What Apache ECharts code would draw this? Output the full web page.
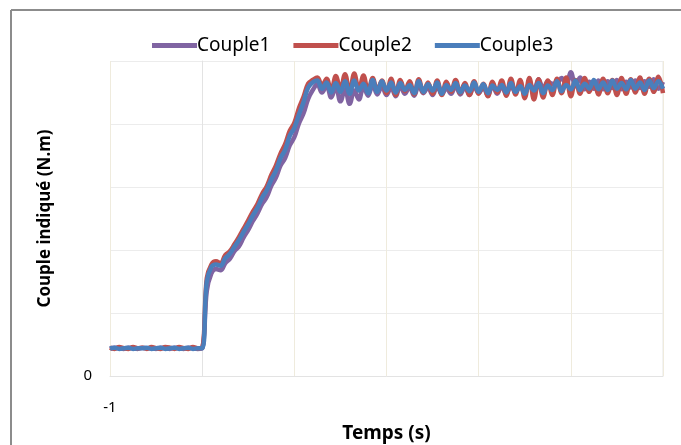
<!DOCTYPE html>
<html>
<head>
<meta charset="utf-8">
<script src="https://cdn.jsdelivr.net/npm/echarts@6/dist/echarts.min.js"></script>
<style>html,body{margin:0;padding:0;background:#fff}#c{width:681px;height:445px}</style>
</head>
<body>
<div id="c"></div>
<script>
var times = [
-1.00,-0.95,-0.90,-0.85,-0.80,-0.75,-0.70,-0.65,-0.60,-0.55,
-0.50,-0.45,-0.40,-0.35,-0.30,-0.25,-0.20,-0.15,-0.10,-0.05,
0.00,0.05,0.10,0.15,0.20,0.25,0.30,0.35,0.40,0.45,
0.50,0.55,0.60,0.65,0.70,0.75,0.80,0.85,0.90,0.95,
1.00,1.05,1.10,1.15,1.20,1.25,1.30,1.35,1.40,1.45,
1.50,1.55,1.60,1.65,1.70,1.75,1.80,1.85,1.90,1.95,
2.00,2.05,2.10,2.15,2.20,2.25,2.30,2.35,2.40,2.45,
2.50,2.55,2.60,2.65,2.70,2.75,2.80,2.85,2.90,2.95,
3.00,3.05,3.10,3.15,3.20,3.25,3.30,3.35,3.40,3.45,
3.50,3.55,3.60,3.65,3.70,3.75,3.80,3.85,3.90,3.95,
4.00,4.05,4.10,4.15,4.20,4.25,4.30,4.35,4.40,4.45,
4.50,4.55,4.60,4.65,4.70,4.75,4.80,4.85,4.90,4.95,
5.00];

var couple1 = [
4.3,4.5,4.4,4.3,4.5,4.4,4.3,4.5,4.4,4.4,
4.3,4.5,4.4,4.3,4.5,4.4,4.3,4.5,4.4,4.3,
4.4,
13.5,16.3,17.0,16.8,17.9,18.6,19.8,20.6,22.0,23.2,
24.6,25.8,27.3,28.4,30.2,31.5,33.4,34.6,36.6,37.9,
40.1,41.7,44.0,45.4,
46.3,45.0,46.1,44.2,45.9,43.6,45.5,43.2,45.3,43.9,
45.9,44.5,46.2,44.7,46.0,44.6,45.8,44.4,46.1,44.8,
45.9,44.5,46.2,44.9,45.8,44.6,46.0,44.7,45.7,44.8,
46.1,44.7,45.9,44.6,46.0,44.9,45.8,44.5,46.2,44.8,
46.0,44.7,46.1,45.0,46.3,44.9,46.6,45.3,47.1,45.6,
46.7,46.4,46.5,47.3,46.2,48.2,46.0,47.4,45.5,46.7,
45.6,46.9,45.5,46.8,45.7,47.0,45.5,46.7,45.8,46.9,
45.7,46.8,45.9,47.1,45.6,46.7];

var couple2 = [
4.5,4.3,4.6,4.4,4.3,4.6,4.4,4.5,4.3,4.6,
4.4,4.3,4.6,4.5,4.3,4.6,4.4,4.3,4.6,4.4,
4.5,
15.5,17.7,18.2,17.9,19.2,19.8,20.9,22.1,23.4,24.7,
26.1,27.3,28.9,30.1,31.9,33.4,35.3,36.8,38.9,40.2,
42.5,44.3,46.4,47.0,
47.4,46.0,47.2,45.2,47.6,45.5,47.9,45.0,48.0,45.4,
47.7,45.1,47.3,45.3,46.9,44.9,47.2,44.6,47.0,45.2,
46.8,44.7,47.1,45.0,46.6,44.8,46.9,44.6,46.7,45.1,
47.0,44.9,46.5,44.6,46.8,44.8,46.4,44.4,46.7,45.0,
46.9,44.5,47.2,44.7,47.0,44.1,47.3,43.9,47.1,44.2,
46.9,44.6,47.2,44.9,47.4,44.4,47.0,44.8,47.3,45.1,
46.8,44.7,47.2,44.9,47.0,44.6,47.3,44.8,47.1,45.0,
47.4,44.8,47.2,45.1,47.5,44.9];

var couple3 = [
4.4,4.5,4.3,4.4,4.5,4.3,4.4,4.4,4.5,4.3,
4.4,4.5,4.3,4.4,4.5,4.3,4.4,4.5,4.3,4.4,
4.4,
15.0,17.3,17.7,17.5,18.7,19.4,20.5,21.6,22.9,24.1,
25.5,26.7,28.3,29.5,31.2,32.6,34.6,35.9,38.1,39.4,
41.5,43.5,45.8,46.6,
46.9,45.6,46.6,45.0,46.5,45.1,46.8,44.8,46.9,45.3,
46.4,44.9,47.0,45.1,46.8,45.3,46.6,45.0,46.5,45.4,
46.2,44.9,46.8,45.1,46.3,45.3,46.6,44.8,46.2,45.4,
46.5,45.0,46.1,45.2,46.6,45.1,46.3,44.9,46.1,45.4,
46.2,45.0,46.5,45.1,46.0,44.8,46.2,45.3,46.5,44.9,
46.1,45.4,46.8,45.2,46.2,45.5,46.9,45.4,46.4,45.6,
47.0,45.5,46.6,45.4,46.9,45.6,46.5,45.5,47.0,45.6,
46.6,45.4,46.9,45.7,46.8,45.6];

var seriesNames = ['Couple1','Couple2','Couple3'];
var seriesColors = ['#8064a2','#c0504d','#4a7ebb'];
var xTickLabel = '-1';
var yTickLabel = '0';

function pairs(vals){ var o=[]; for(var i=0;i<vals.length;i++){ o.push([times[i], vals[i]]); } return o; }

var chart = echarts.init(document.getElementById('c'));
var font = '"Noto Sans", "Open Sans", sans-serif';
chart.setOption({
  animation:false,
  backgroundColor:'#fff',
  textStyle:{fontFamily:font},
  graphic:[
    {type:'line', shape:{x1:11,y1:10,x2:681,y2:10}, style:{stroke:'#8c8c8c',lineWidth:2}},
    {type:'line', shape:{x1:11,y1:10,x2:11,y2:445}, style:{stroke:'#8c8c8c',lineWidth:2}},
    {type:'line', shape:{x1:663,y1:61,x2:663,y2:376}, style:{stroke:'#e6e6e6',lineWidth:1}}
  ],
  legend:{
    data:seriesNames,
    left:147, top:31,
    icon:'rect', itemWidth:45, itemHeight:5, itemGap:23,
    textStyle:{fontFamily:font, fontSize:19, color:'#000', padding:[0,0,0,-5]}
  },
  grid:{left:110, right:18, top:61, bottom:69, containLabel:false, outerBoundsMode:'none'},
  xAxis:{
    type:'value', min:-1, max:5, interval:1,
    name:'Temps (s)', nameLocation:'middle', nameGap:48,
    nameTextStyle:{fontFamily:font, fontSize:19, fontWeight:'bold', color:'#000'},
    axisLine:{show:true, lineStyle:{color:'#e3e3e3', width:1}},
    axisTick:{show:false},
    axisLabel:{margin:24, fontSize:15, color:'#000', fontFamily:font,
      formatter:function(v){ return v===-1 ? xTickLabel : ''; }},
    splitLine:{show:true, lineStyle:{color:'#efebdd', width:1}}
  },
  yAxis:{
    type:'value', min:0, max:50, interval:10,
    name:'Couple indiqué (N.m)', nameLocation:'middle', nameGap:56,
    nameTextStyle:{fontFamily:font, fontSize:17, fontWeight:'bold', color:'#000'},
    axisLine:{show:true, lineStyle:{color:'#e3e3e3'}},
    axisTick:{show:false},
    axisLabel:{margin:18, fontSize:15, color:'#000', fontFamily:font,
      formatter:function(v){ return v===0 ? yTickLabel : ''; }},
    splitLine:{show:true, lineStyle:{color:'#ececec', width:1}}
  },
  series:[couple1,couple2,couple3].map(function(d,i){
    return {
      name:seriesNames[i], type:'line', data:pairs(d),
      showSymbol:false, symbol:'none', smooth:0.4,
      lineStyle:{width:4.5, color:seriesColors[i]},
      itemStyle:{color:seriesColors[i]}
    };
  })
});
</script>
</body>
</html>
